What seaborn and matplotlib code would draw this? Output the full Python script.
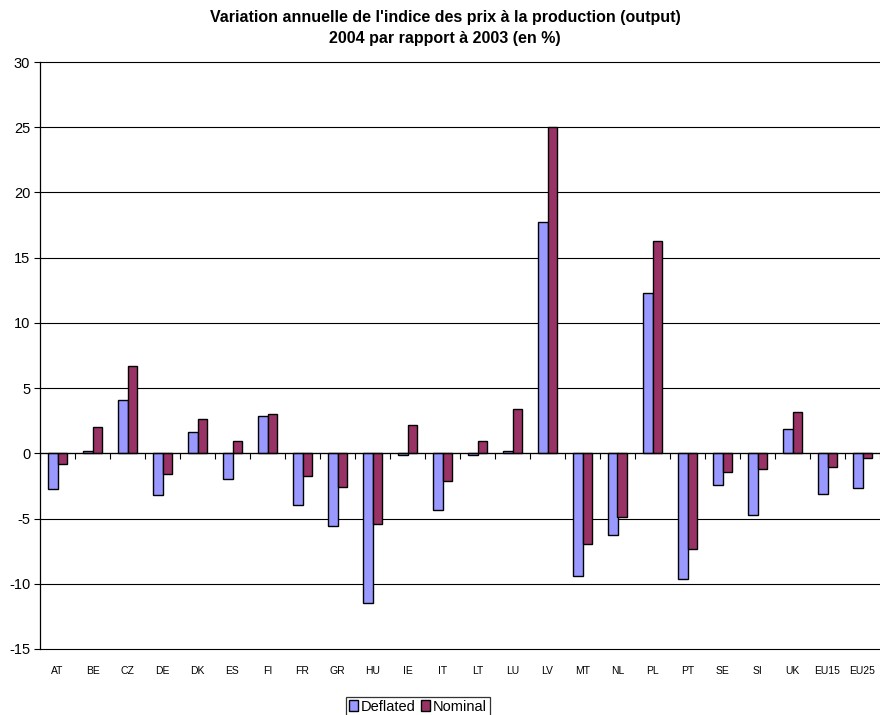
import matplotlib
matplotlib.use("Agg")
import matplotlib.pyplot as plt
import seaborn as sns
import pandas as pd
import numpy as np
from matplotlib.patches import Patch

countries = ["AT", "BE", "CZ", "DE", "DK", "ES", "FI", "FR", "GR", "HU", "IE", "IT",
             "LT", "LU", "LV", "MT", "NL", "PL", "PT", "SE", "SI", "UK", "EU15", "EU25"]
deflated = [-2.7, 0.2, 4.1, -3.2, 1.6, -2.0, 2.85, -3.95, -5.55, -11.45, -0.1, -4.35,
            -0.15, 0.15, 17.7, -9.4, -6.25, 12.3, -9.65, -2.4, -4.7, 1.85, -3.15, -2.65]
nominal = [-0.85, 2.0, 6.7, -1.55, 2.6, 0.95, 3.05, -1.7, -2.6, -5.45, 2.2, -2.1,
           0.95, 3.4, 25.0, -6.95, -4.9, 16.3, -7.35, -1.45, -1.2, 3.2, -1.05, -0.35]
series_names = ["Deflated", "Nominal"]
colors = ["#9999FF", "#993366"]
yticks = [-15, -10, -5, 0, 5, 10, 15, 20, 25, 30]
title = "Variation annuelle de l'indice des prix à la production (output)\n2004 par rapport à 2003 (en %)"

df = pd.DataFrame({
    "country": countries * 2,
    "value": deflated + nominal,
    "series": [series_names[0]] * len(countries) + [series_names[1]] * len(countries),
})

sns.set_style("white")
font = ["Liberation Sans Narrow", "Liberation Sans", "DejaVu Sans"]
plt.rcParams["font.family"] = font
plt.rcParams["text.color"] = "black"
plt.rcParams["xtick.color"] = "black"
plt.rcParams["ytick.color"] = "black"
plt.rcParams["axes.labelcolor"] = "black"

fig = plt.figure(figsize=(8.8, 7.15), dpi=100)
ax = fig.add_axes([40 / 880, 66 / 715, 840 / 880, 587 / 715])

sns.barplot(data=df, x="country", y="value", hue="series", order=countries,
            hue_order=series_names, palette=colors, width=0.57, edgecolor="black",
            linewidth=1.0, saturation=1, legend=False, ax=ax, zorder=3)

ax.set_xlim(-0.5, len(countries) - 0.5)
ax.set_ylim(-15, 30)
ax.set_yticks(yticks)
ax.set_yticklabels([str(t) for t in yticks], fontsize=10.5, color="black")
for t in yticks:
    ax.axhline(t, color="black", lw=0.8, zorder=1, clip_on=False)
ax.grid(False)
ax.set_xlabel("")
ax.set_ylabel("")

for s in ["top", "right"]:
    ax.spines[s].set_visible(False)
ax.spines["left"].set_color("black")
ax.spines["left"].set_linewidth(0.9)
ax.spines["bottom"].set_position(("data", 0))
ax.spines["bottom"].set_color("black")
ax.spines["bottom"].set_linewidth(0.9)
ax.spines["bottom"].set_zorder(4)

ax.tick_params(axis="y", direction="out", length=4, width=0.8, color="black", left=True, pad=3)
ax.set_xticks(np.arange(len(countries)))
ax.set_xticklabels([])
ax.tick_params(axis="x", which="major", length=0, bottom=True)
ax.set_xticks(np.arange(-0.5, len(countries), 1.0), minor=True)
ax.tick_params(axis="x", which="minor", direction="out", length=4, width=0.8, color="black", bottom=True)

sec = ax.secondary_xaxis("bottom")
sec.set_xticks(np.arange(len(countries)))
sec.set_xticklabels(countries, fontsize=7.5, color="black")
sec.tick_params(length=0, pad=12)
sec.spines["bottom"].set_visible(False)

fig.text(445 / 880, 1 - 28 / 715, title, ha="center", va="center", color="black",
         fontsize=11.5, fontweight="bold", linespacing=1.45)

handles = [Patch(facecolor=c, edgecolor="black", linewidth=1.0, label=n)
           for c, n in zip(colors, series_names)]
leg = fig.legend(handles=handles, loc="upper center", bbox_to_anchor=(418 / 880, 1 - 697 / 715),
                 ncol=2, frameon=True, fontsize=10.5, handlelength=0.6, handleheight=0.8,
                 handletextpad=0.2, columnspacing=0.4, borderpad=0.2, fancybox=False,
                 borderaxespad=0)
leg.get_frame().set_edgecolor("black")
leg.get_frame().set_linewidth(0.9)

fig.savefig("out.png", dpi=100)
